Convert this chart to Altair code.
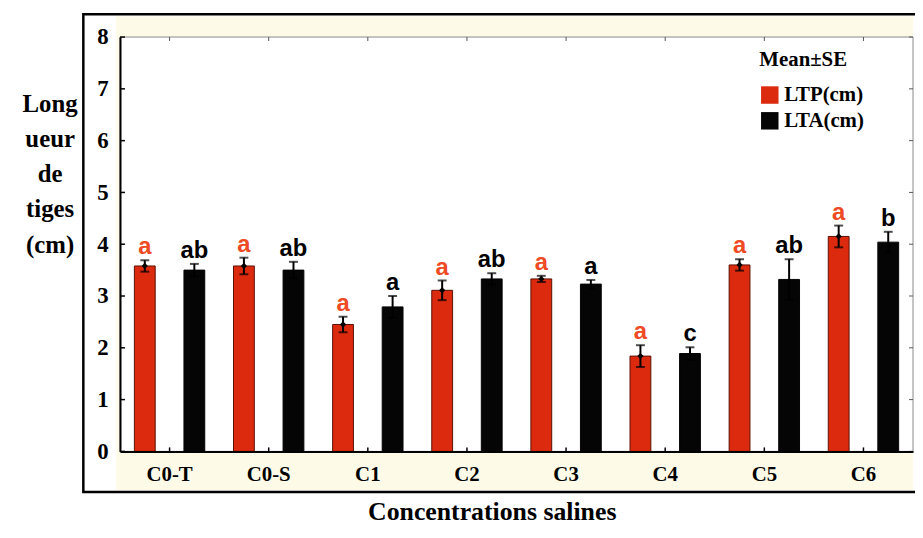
import altair as alt
import pandas as pd

categories = ["C0-T", "C0-S", "C1", "C2", "C3", "C4", "C5", "C6"]
series = ["LTP(cm)", "LTA(cm)"]
ltp_mean = [3.58, 3.58, 2.45, 3.11, 3.33, 1.84, 3.60, 4.15]
ltp_se = [0.11, 0.16, 0.15, 0.19, 0.06, 0.21, 0.11, 0.21]
lta_mean = [3.50, 3.50, 2.79, 3.33, 3.23, 1.89, 3.32, 4.04]
lta_se = [0.12, 0.16, 0.21, 0.11, 0.08, 0.12, 0.39, 0.20]
ltp_letters = ["a", "a", "a", "a", "a", "a", "a", "a"]
lta_letters = ["ab", "ab", "a", "ab", "a", "c", "ab", "b"]
y_ticks = [0, 1, 2, 3, 4, 5, 6, 7, 8]

rows = []
for i, c in enumerate(categories):
    for s, m, e, l in ((series[0], ltp_mean[i], ltp_se[i], ltp_letters[i]),
                       (series[1], lta_mean[i], lta_se[i], lta_letters[i])):
        rows.append({"cat": c, "series": s, "mean": m, "se": e,
                     "lo": m - e, "hi": m + e, "letter": l})
df = pd.DataFrame(rows)
cats_df = pd.DataFrame({"cat": categories})
ticks_df = pd.DataFrame({"v": y_ticks})

W, H = 800, 418
RED = "#dc2a0e"
RED_TXT = "#ee4a24"
SERIF = "Times New Roman, Liberation Serif, serif"
SANS = "Arial, Liberation Sans, sans-serif"

xscale = alt.Scale(domain=categories, paddingInner=0, paddingOuter=0)
yscale = alt.Scale(domain=[0, 8], nice=False)
xoff = alt.XOffset("series:N", sort=series,
                   scale=alt.Scale(domain=series, paddingInner=0.58, paddingOuter=0.29))

X = alt.X("cat:N", scale=xscale, sort=categories,
          axis=alt.Axis(title="Concentrations salines", labelAngle=0,
                        labelFont=SERIF, labelFontWeight="bold", labelFontSize=21,
                        labelColor="black", labelPadding=12, ticks=False,
                        domainColor="black", domainWidth=2,
                        titleFont=SERIF, titleFontWeight="bold", titleFontSize=26,
                        titleColor="black", titleX=375, titleY=69,
                        titleBaseline="alphabetic", titleAnchor="middle", zindex=1))
Y = alt.Y("mean:Q", scale=yscale,
          axis=alt.Axis(values=y_ticks, title=["Long", "ueur", "de", "tiges", "(cm)"],
                        labelFont=SERIF, labelFontWeight="bold", labelFontSize=23,
                        labelColor="black", labelPadding=12, ticks=False, grid=False,
                        domainColor="black", domainWidth=2,
                        titleFont=SERIF, titleFontWeight="bold", titleFontSize=25,
                        titleColor="black", titleAngle=0, titleX=-71, titleY=75,
                        titleAlign="center", titleBaseline="alphabetic",
                        titleLineHeight=35.5, zindex=1))

one = alt.Data(values=[{"k": 1}])

cream = alt.Chart(one).mark_rect(fill="#fdfbe8", stroke=None).encode(
    x=alt.value(-4), x2=alt.value(W), y=alt.value(-21), y2=alt.value(457))
white = alt.Chart(one).mark_rect(fill="white", stroke="#8a8a8a", strokeWidth=1).encode(
    x=alt.value(0), x2=alt.value(W), y=alt.value(0), y2=alt.value(H))
frame = alt.Chart(one).mark_rect(fill=None, stroke="black", strokeWidth=2.5).encode(
    x=alt.value(-37), x2=alt.value(W + 10), y=alt.value(-23), y2=alt.value(459))

bars = alt.Chart(df).mark_bar(strokeWidth=1).encode(
    x=X, xOffset=xoff, y=Y,
    color=alt.Color("series:N", sort=series,
                    scale=alt.Scale(domain=series, range=[RED, "#050505"]),
                    legend=alt.Legend(title="Mean±SE", orient="none", legendX=645, legendY=12,
                                      titleFont=SERIF, titleFontWeight="bold", titleFontSize=21,
                                      titleColor="black", titlePadding=15,
                                      labelFont=SERIF, labelFontWeight="bold", labelFontSize=21,
                                      labelColor="black", symbolType="square", symbolSize=310,
                                      symbolStrokeWidth=0, rowPadding=4, labelOffset=4)),
    stroke=alt.Stroke("series:N", sort=series,
                      scale=alt.Scale(domain=series, range=["#5a0f05", "#050505"]),
                      legend=None),
)

err = alt.Chart(df).mark_rule(color="black", strokeWidth=2).encode(
    x=alt.X("cat:N", scale=xscale, sort=categories), xOffset=xoff,
    y=alt.Y("lo:Q", scale=yscale), y2="hi:Q")
caps_hi = alt.Chart(df).mark_tick(color="black", size=9, thickness=2).encode(
    x=alt.X("cat:N", scale=xscale, sort=categories), xOffset=xoff,
    y=alt.Y("hi:Q", scale=yscale))
caps_lo = alt.Chart(df).mark_tick(color="black", size=9, thickness=2).encode(
    x=alt.X("cat:N", scale=xscale, sort=categories), xOffset=xoff,
    y=alt.Y("lo:Q", scale=yscale))
dots = alt.Chart(df).transform_filter(alt.datum.series == series[0]).mark_point(
    filled=True, color="black", size=40, opacity=1, shape="diamond").encode(
    x=alt.X("cat:N", scale=xscale, sort=categories), xOffset=xoff,
    y=alt.Y("mean:Q", scale=yscale))

txt_red = alt.Chart(df).transform_filter(alt.datum.series == series[0]).mark_text(
    font=SANS, fontWeight="bold", fontSize=24, color=RED_TXT, dy=-6,
    baseline="alphabetic").encode(
    x=alt.X("cat:N", scale=xscale, sort=categories), xOffset=xoff,
    y=alt.Y("hi:Q", scale=yscale), text="letter:N")
txt_blk = alt.Chart(df).transform_filter(alt.datum.series == series[1]).mark_text(
    font=SANS, fontWeight="bold", fontSize=24, color="black", dy=-6,
    baseline="alphabetic").encode(
    x=alt.X("cat:N", scale=xscale, sort=categories), xOffset=xoff,
    y=alt.Y("hi:Q", scale=yscale), text="letter:N")

tick_l = alt.Chart(ticks_df).mark_rule(color="black", strokeWidth=1.5).encode(
    y=alt.Y("v:Q", scale=yscale), x=alt.value(0), x2=alt.value(5))
tick_r = alt.Chart(ticks_df).mark_rule(color="#555555", strokeWidth=1).encode(
    y=alt.Y("v:Q", scale=yscale), x=alt.value(W - 4), x2=alt.value(W))
tick_b = alt.Chart(cats_df).mark_rule(color="black", strokeWidth=1.5).encode(
    x=alt.X("cat:N", scale=xscale, sort=categories, bandPosition=0.5),
    y=alt.value(H - 4), y2=alt.value(H))
tick_t = alt.Chart(cats_df).mark_rule(color="#555555", strokeWidth=1).encode(
    x=alt.X("cat:N", scale=xscale, sort=categories, bandPosition=0.5),
    y=alt.value(0), y2=alt.value(4))

chart = alt.layer(
    cream, white, frame, bars, err, caps_hi, caps_lo, dots, txt_red, txt_blk,
    tick_l, tick_r, tick_b, tick_t
).resolve_scale(color="independent", stroke="independent").properties(
    width=W, height=H,
    autosize=alt.AutoSizeParams(type="none"),
    padding={"left": 113, "top": 27, "right": 2, "bottom": 77},
    background="white",
).configure_view(stroke=None)

chart.save("out.html", embed_options={"renderer": "svg", "actions": False})
